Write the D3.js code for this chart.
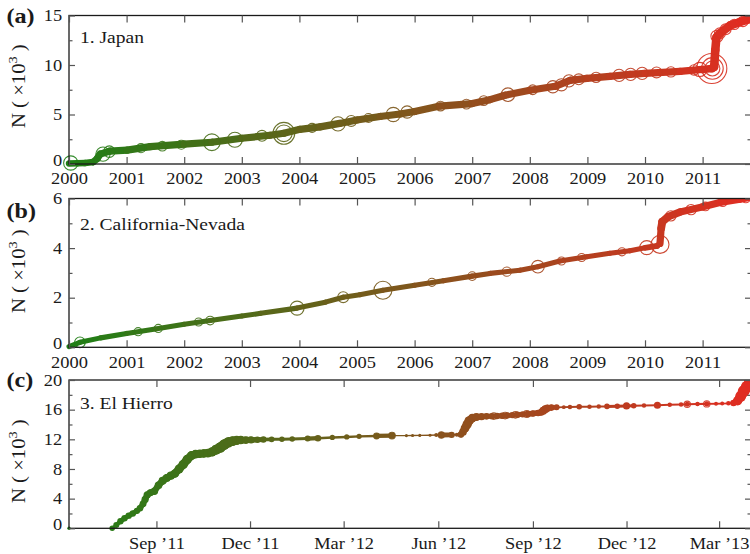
<!DOCTYPE html>
<html>
<head>
<meta charset="utf-8">
<script src="https://cdn.jsdelivr.net/npm/d3@7"></script>
<style>
  body { margin: 0; background: #fff; }
  svg { display: block; }
  text { font-family: "Liberation Serif", "Times New Roman", serif; fill: #1a1a1a; }
</style>
</head>
<body>
<svg id="chart" width="750" height="554"></svg>
<script>
// ---------------------------------------------------------------
// Cumulative earthquake counts N (thousands).
// Curve rows: [time, N, representative magnitude of the interval]
// Event rows: [time, N, magnitude] for the largest shocks (rings)
// ---------------------------------------------------------------

// (a) Japan, time in decimal years
const japanCurve = [
  [2000.00, 0.05, 5.0], [2000.15, 0.08, 5.0], [2000.28, 0.10, 5.0], [2000.42, 0.20, 5.1],
  [2000.49, 0.55, 5.2], [2000.54, 1.00, 5.2], [2000.71, 1.30, 5.2], [2001.01, 1.40, 5.2],
  [2001.41, 1.75, 5.2], [2002.00, 2.00, 5.2], [2002.48, 2.20, 5.2], [2003.00, 2.60, 5.2],
  [2003.49, 2.90, 5.2], [2003.73, 3.10, 5.3], [2004.01, 3.50, 5.2], [2004.36, 3.75, 5.2],
  [2004.70, 4.10, 5.2], [2005.00, 4.45, 5.2], [2005.40, 4.80, 5.2], [2005.75, 5.05, 5.2],
  [2006.00, 5.30, 5.2], [2006.44, 5.85, 5.2], [2007.00, 6.10, 5.2], [2007.31, 6.50, 5.2],
  [2007.57, 6.95, 5.2], [2008.00, 7.45, 5.2], [2008.44, 7.85, 5.2], [2008.70, 8.45, 5.3],
  [2008.99, 8.65, 5.2], [2009.39, 8.85, 5.2], [2009.74, 9.05, 5.2], [2010.00, 9.15, 5.2],
  [2010.61, 9.35, 5.2], [2010.99, 9.55, 5.3], [2011.16, 9.65, 5.5], [2011.20, 9.80, 5.6],
  [2011.22, 11.50, 5.6], [2011.24, 12.80, 5.6], [2011.30, 13.20, 5.6], [2011.48, 14.00, 5.6],
  [2011.65, 14.35, 5.6], [2011.86, 14.70, 5.6]
];
const japanEvents = [
  [2000.03, 0.10, 7.0], [2000.59, 1.00, 7.0], [2000.70, 1.25, 6.6], [2001.25, 1.60, 6.2],
  [2001.62, 1.80, 6.3], [2001.95, 1.95, 6.2], [2002.48, 2.20, 7.35], [2002.88, 2.45, 7.1],
  [2003.35, 2.85, 6.5], [2003.73, 3.10, 8.02], [2003.73, 3.10, 7.35], [2004.22, 3.65, 6.2],
  [2004.67, 4.05, 7.0], [2004.90, 4.35, 6.5], [2005.20, 4.65, 6.2], [2005.63, 5.00, 7.0],
  [2005.87, 5.25, 6.7], [2006.45, 5.85, 6.3], [2006.90, 6.05, 6.3], [2007.20, 6.40, 6.3],
  [2007.62, 7.00, 6.9], [2008.05, 7.50, 6.3], [2008.40, 7.80, 6.7], [2008.55, 8.00, 6.7],
  [2008.68, 8.40, 6.7], [2008.85, 8.55, 6.5], [2009.15, 8.75, 6.4], [2009.55, 8.95, 6.7],
  [2009.75, 9.05, 6.7], [2009.95, 9.15, 6.7], [2010.20, 9.25, 6.5], [2010.45, 9.30, 6.4],
  [2010.85, 9.50, 6.4], [2010.95, 9.55, 7.0], [2011.16, 9.65, 9.0], [2011.17, 9.65, 8.0],
  [2011.17, 9.65, 7.1], [2011.25, 12.90, 6.7], [2011.30, 13.20, 6.5], [2011.40, 13.60, 6.5],
  [2011.55, 14.10, 6.4], [2011.70, 14.40, 6.4]
];

// (b) California-Nevada, time in decimal years
const calNevCurve = [
  [2000.00, 0.03, 4.6], [2000.19, 0.20, 4.6], [2000.55, 0.38, 4.6], [2001.00, 0.56, 4.6],
  [2001.50, 0.74, 4.6], [2002.00, 0.93, 4.6], [2002.45, 1.08, 4.6], [2003.00, 1.26, 4.6],
  [2003.33, 1.37, 4.6], [2003.96, 1.58, 4.7], [2004.45, 1.82, 4.6], [2004.76, 2.02, 4.7],
  [2005.05, 2.12, 4.6], [2005.45, 2.30, 4.7], [2006.00, 2.50, 4.6], [2006.50, 2.68, 4.6],
  [2007.00, 2.87, 4.6], [2007.31, 2.98, 4.6], [2007.83, 3.11, 4.6], [2008.14, 3.25, 4.8],
  [2008.52, 3.48, 4.6], [2008.99, 3.65, 4.6], [2009.39, 3.79, 4.6], [2009.74, 3.89, 4.6],
  [2010.00, 4.01, 4.8], [2010.21, 4.09, 4.8], [2010.26, 4.19, 5.2], [2010.28, 4.80, 5.4],
  [2010.30, 5.06, 5.4], [2010.40, 5.26, 5.4], [2010.61, 5.46, 5.3], [2010.99, 5.66, 5.2],
  [2011.30, 5.84, 5.2], [2011.65, 5.97, 5.2], [2011.86, 6.06, 5.2]
];
const calNevEvents = [
  [2000.19, 0.20, 6.06], [2001.20, 0.63, 5.6], [2001.55, 0.76, 5.6], [2002.25, 1.02, 5.6],
  [2002.45, 1.08, 5.7], [2003.96, 1.58, 6.6], [2004.76, 2.02, 6.1], [2005.45, 2.30, 7.2],
  [2006.30, 2.62, 5.6], [2007.00, 2.87, 5.7], [2007.60, 3.05, 5.8], [2008.14, 3.25, 6.4],
  [2008.55, 3.48, 5.6], [2008.90, 3.62, 5.6], [2009.60, 3.85, 5.6], [2010.03, 4.02, 6.6],
  [2010.26, 4.15, 7.2], [2010.45, 5.30, 6.0], [2010.80, 5.55, 6.0], [2011.05, 5.68, 5.7],
  [2011.35, 5.85, 5.7], [2011.75, 6.00, 5.7]
];

// (c) El Hierro, time as calendar dates
const hierroCurve = [
  ["2011-06-08", 0.00, 1.8],
  ["2011-07-20", 0.00, 2.6], ["2011-07-24", 0.45, 2.8], ["2011-07-28", 0.95, 2.9],
  ["2011-08-01", 1.35, 2.9], ["2011-08-05", 1.70, 2.9], ["2011-08-09", 2.00, 2.9],
  ["2011-08-13", 2.35, 2.9], ["2011-08-16", 2.70, 3.0], ["2011-08-19", 3.30, 3.1],
  ["2011-08-21", 3.90, 3.2], ["2011-08-23", 4.50, 3.2], ["2011-08-26", 4.80, 3.2],
  ["2011-08-30", 5.00, 3.3], ["2011-09-03", 5.80, 3.4], ["2011-09-07", 6.40, 3.5],
  ["2011-09-11", 6.80, 3.5], ["2011-09-15", 7.10, 3.6], ["2011-09-19", 7.40, 3.7],
  ["2011-09-23", 8.00, 3.9], ["2011-09-27", 8.60, 4.0], ["2011-10-01", 9.30, 4.0],
  ["2011-10-05", 9.80, 3.9], ["2011-10-09", 10.00, 3.8], ["2011-10-13", 10.05, 3.7],
  ["2011-10-17", 10.10, 3.7], ["2011-10-21", 10.15, 3.8], ["2011-10-25", 10.30, 4.0],
  ["2011-10-29", 10.60, 4.3], ["2011-11-02", 10.90, 4.5], ["2011-11-06", 11.30, 4.5],
  ["2011-11-10", 11.60, 4.4], ["2011-11-14", 11.75, 4.2], ["2011-11-18", 11.85, 4.0],
  ["2011-11-22", 11.90, 3.7], ["2011-11-27", 11.90, 3.4], ["2011-12-02", 11.92, 3.2],
  ["2011-12-08", 11.95, 3.0], ["2011-12-14", 11.97, 2.9], ["2011-12-22", 12.00, 2.7],
  ["2012-01-01", 12.00, 2.6], ["2012-01-11", 12.05, 2.6], ["2012-01-26", 12.10, 2.8],
  ["2012-02-05", 12.15, 3.0], ["2012-02-19", 12.25, 2.5], ["2012-03-04", 12.32, 2.5],
  ["2012-03-16", 12.40, 2.5], ["2012-04-02", 12.45, 2.8], ["2012-04-17", 12.50, 3.0],
  ["2012-05-01", 12.50, 1.7], ["2012-05-07", 12.52, 1.7], ["2012-05-14", 12.53, 1.7],
  ["2012-05-24", 12.55, 1.7], ["2012-05-30", 12.57, 2.0], ["2012-06-04", 12.58, 2.9],
  ["2012-06-14", 12.60, 2.9], ["2012-06-19", 12.62, 2.0], ["2012-06-23", 12.65, 3.0],
  ["2012-06-25", 13.00, 3.4], ["2012-06-27", 13.50, 3.8], ["2012-06-29", 14.00, 4.0],
  ["2012-07-01", 14.50, 4.0], ["2012-07-04", 14.85, 3.8], ["2012-07-08", 15.00, 3.5],
  ["2012-07-13", 15.05, 3.2], ["2012-07-18", 15.10, 3.0], ["2012-07-23", 15.12, 2.9],
  ["2012-07-28", 15.15, 2.9], ["2012-08-02", 15.18, 2.9], ["2012-08-07", 15.22, 2.9],
  ["2012-08-12", 15.27, 2.9], ["2012-08-17", 15.32, 2.9], ["2012-08-22", 15.37, 2.9],
  ["2012-08-27", 15.42, 3.0], ["2012-09-01", 15.48, 3.0], ["2012-09-06", 15.55, 3.0],
  ["2012-09-09", 15.65, 3.2], ["2012-09-11", 15.85, 3.5], ["2012-09-13", 16.05, 3.5],
  ["2012-09-15", 16.20, 3.3], ["2012-09-19", 16.28, 3.0], ["2012-09-24", 16.32, 2.8],
  ["2012-10-01", 16.34, 2.0], ["2012-10-07", 16.36, 2.2], ["2012-10-16", 16.38, 2.6],
  ["2012-10-26", 16.40, 2.2], ["2012-11-04", 16.42, 2.2], ["2012-11-12", 16.44, 2.6],
  ["2012-11-22", 16.46, 2.6], ["2012-12-01", 16.50, 3.2], ["2012-12-08", 16.52, 2.6],
  ["2012-12-18", 16.55, 2.2], ["2012-12-31", 16.60, 3.2], ["2013-01-12", 16.65, 2.2],
  ["2013-01-23", 16.70, 2.2], ["2013-01-29", 16.72, 2.4], ["2013-02-08", 16.75, 2.2],
  ["2013-02-17", 16.78, 2.4], ["2013-02-26", 16.80, 2.0], ["2013-03-04", 16.82, 2.0],
  ["2013-03-10", 16.85, 2.2], ["2013-03-15", 16.90, 3.0], ["2013-03-19", 17.20, 4.0],
  ["2013-03-22", 17.80, 4.6], ["2013-03-25", 18.50, 5.0], ["2013-03-28", 19.10, 5.0],
  ["2013-03-31", 19.60, 5.0]
];
const hierroEvents = [
  ["2012-04-02", 12.45, 2.7], ["2012-04-17", 12.50, 3.0], ["2012-06-04", 12.58, 2.9],
  ["2012-07-25", 15.13, 3.0], ["2012-08-05", 15.20, 3.0], ["2012-08-15", 15.30, 3.0],
  ["2012-08-26", 15.40, 3.1], ["2013-01-29", 16.72, 2.9], ["2013-02-17", 16.78, 2.9]
];

// Axis ticks and labels
const yearTicks = [2000, 2001, 2002, 2003, 2004, 2005, 2006, 2007, 2008, 2009, 2010, 2011];
const japanYTicks = [0, 5, 10, 15];
const japanYMinor = [2.5, 7.5, 12.5];
const calNevYTicks = [0, 2, 4, 6];
const calNevYMinor = [1, 3, 5];
const hierroYTicks = [0, 4, 8, 12, 16, 20];
const hierroYMinor = [2, 6, 10, 14, 18];
const hierroTickDates = ["2011-09-01", "2011-12-01", "2012-03-01", "2012-06-01", "2012-09-01", "2012-12-01", "2013-03-01"];
const hierroTickLabels = ["Sep \u201911", "Dec \u201911", "Mar \u201912", "Jun \u201912", "Sep \u201912", "Dec \u201912", "Mar \u201913"];
const panelTitles = ["1. Japan", "2. California-Nevada", "3. El Hierro"];
const panelLetters = ["(a)", "(b)", "(c)"];

// ---------------------------------------------------------------
const svg = d3.select("#chart");
const parse = d3.utcParse("%Y-%m-%d");
const LEFT = 69, RIGHT = 751;
const SX = 1.15;                       // horizontal widening of the lettering
const timeColor = d3.interpolateRgb("rgb(30,128,22)", "rgb(226,44,34)");

const bandMain = d3.scaleLinear().domain([4, 6]).range([3, 10]);
const bandHierro = d3.scaleLinear().domain([1.5, 2.5, 3.0, 4.5]).range([1.2, 2.4, 5.5, 10]).clamp(true);
const dotHierro = d3.scaleLinear().domain([1.5, 5]).range([1.3, 6]).clamp(true);

const yearScale = d3.scaleLinear().domain([2000, 2011.84]).range([LEFT, RIGHT]);
const hierroStart = parse("2011-06-08"), hierroEnd = parse("2013-04-01");
const dateScale = d3.scaleUtc().domain([hierroStart, hierroEnd]).range([LEFT, RIGHT]);

const panels = [
  {
    top: 15.5, bottom: 164, yMax: 15, yTicks: japanYTicks, yMinor: japanYMinor,
    curve: japanCurve, events: japanEvents,
    xOf: d => yearScale(d[0]), tOf: d => (d[0] - 2000) / 11.84,
    band: bandMain, ring: d3.scalePow().exponent(2).domain([5.5, 9]).range([2.5, 15]).clamp(true),
    xTicks: yearTicks.map(v => yearScale(v)), xLabels: yearTicks.map(String),
    titleY: 43, letterY: 23, ylabelY: 128, maxGap: Infinity, dots: false
  },
  {
    top: 198.5, bottom: 347.3, yMax: 6, yTicks: calNevYTicks, yMinor: calNevYMinor,
    curve: calNevCurve, events: calNevEvents,
    xOf: d => yearScale(d[0]), tOf: d => (d[0] - 2000) / 11.84,
    band: bandMain, ring: d3.scalePow().exponent(2).domain([5, 7.2]).range([2.5, 9]).clamp(true),
    xTicks: yearTicks.map(v => yearScale(v)), xLabels: yearTicks.map(String),
    titleY: 230, letterY: 218, ylabelY: 313, maxGap: Infinity, dots: false
  },
  {
    top: 380, bottom: 528.3, yMax: 20, yTicks: hierroYTicks, yMinor: hierroYMinor,
    curve: hierroCurve, events: hierroEvents,
    xOf: d => dateScale(parse(d[0])),
    tOf: d => (parse(d[0]) - hierroStart) / (hierroEnd - hierroStart),
    band: bandHierro, ring: dotHierro,
    xTicks: hierroTickDates.map(s => dateScale(parse(s))), xLabels: hierroTickLabels,
    titleY: 409, letterY: 387, ylabelY: 503, maxGap: 30 * 864e5, dots: true
  }
];

panels.forEach((p, i) => {
  const y = d3.scaleLinear().domain([0, p.yMax]).range([p.bottom, p.top]);
  const g = svg.append("g");

  // clip only above the top frame line
  const clipId = "clip" + i;
  svg.append("clipPath").attr("id", clipId)
    .append("rect").attr("x", 40).attr("y", p.top)
    .attr("width", 760).attr("height", p.bottom - p.top + 30);
  const plot = g.append("g").attr("clip-path", `url(#${clipId})`);

  // thick cumulative band, coloured by time
  const gapOf = (a, b) => i === 2 ? parse(b[0]) - parse(a[0]) : 0;
  const segs = d3.pairs(p.curve).filter(([a, b]) => gapOf(a, b) <= p.maxGap);
  plot.append("g").selectAll("line").data(segs).join("line")
    .attr("x1", d => p.xOf(d[0])).attr("y1", d => y(d[0][1]))
    .attr("x2", d => p.xOf(d[1])).attr("y2", d => y(d[1][1]))
    .attr("stroke", d => timeColor((p.tOf(d[0]) + p.tOf(d[1])) / 2))
    .attr("stroke-width", d => p.band(Math.min(d[0][2], d[1][2])))
    .attr("stroke-linecap", "round");

  // individual events as filled dots
  if (p.dots) {
    plot.append("g").selectAll("circle").data(p.curve).join("circle")
      .attr("cx", d => p.xOf(d)).attr("cy", d => y(d[1]))
      .attr("r", d => dotHierro(d[2]))
      .attr("fill", d => timeColor(p.tOf(d)));
  }

  // large events as open rings
  plot.append("g").selectAll("circle").data(p.events).join("circle")
    .attr("cx", d => p.xOf(d)).attr("cy", d => y(d[1]))
    .attr("r", d => p.ring(d[2]))
    .attr("fill", "none")
    .attr("stroke", d => timeColor(p.tOf(d)))
    .attr("stroke-width", 1.1)
    .attr("stroke-opacity", 0.9);

  // frame (right edge lies just outside the canvas)
  g.append("rect").attr("x", LEFT).attr("y", p.top)
    .attr("width", RIGHT - LEFT).attr("height", p.bottom - p.top)
    .attr("fill", "none").attr("stroke", "#1a1a1a").attr("stroke-width", 1.3);

  const tickStroke = "#555";
  const xPos = d3.scaleIdentity();
  // bottom ticks + labels
  const xb = g.append("g").attr("transform", `translate(0,${p.bottom})`)
    .call(d3.axisBottom(xPos).tickValues(p.xTicks).tickFormat((d, k) => p.xLabels[k])
      .tickSize(-7).tickSizeOuter(0).tickPadding(9));
  // top ticks
  const xt = g.append("g").attr("transform", `translate(0,${p.top})`)
    .call(d3.axisTop(xPos).tickValues(p.xTicks).tickFormat("").tickSize(-7).tickSizeOuter(0));
  // left major/minor
  const yl = g.append("g").attr("transform", `translate(${LEFT},0)`)
    .call(d3.axisLeft(y).tickValues(p.yTicks).tickFormat(d3.format("d")).tickSize(-6).tickSizeOuter(0).tickPadding(6));
  const ylm = g.append("g").attr("transform", `translate(${LEFT},0)`)
    .call(d3.axisLeft(y).tickValues(p.yMinor).tickFormat("").tickSize(-3.5).tickSizeOuter(0));
  // right major/minor
  const yr = g.append("g").attr("transform", `translate(${RIGHT},0)`)
    .call(d3.axisRight(y).tickValues(p.yTicks).tickFormat("").tickSize(-6).tickSizeOuter(0));
  const yrm = g.append("g").attr("transform", `translate(${RIGHT},0)`)
    .call(d3.axisRight(y).tickValues(p.yMinor).tickFormat("").tickSize(-3.5).tickSizeOuter(0));

  [xb, xt, yl, ylm, yr, yrm].forEach(a => {
    a.attr("font-family", null).attr("font-size", null);
    a.select(".domain").remove();
    a.selectAll("line").attr("stroke", tickStroke).attr("stroke-width", 1.2);
  });
  [xb, yl].forEach(a => a.selectAll("text")
    .attr("font-size", 16).attr("fill", "#1a1a1a")
    .attr("transform", `scale(${SX},1)`));
  // the zero label sits a touch higher so it clears the year labels
  yl.selectAll("text").filter(d => d === 0).attr("dy", "0.1em");

  // series title
  g.append("text").attr("transform", `translate(80,${p.titleY}) scale(${SX},1)`)
    .attr("font-size", 17).text(panelTitles[i]);

  // panel letter
  g.append("text").attr("transform", `translate(6.5,${p.letterY}) scale(${SX},1)`)
    .attr("font-size", 21).attr("font-weight", "bold").text(panelLetters[i]);

  // y-axis label: N ( ×10^3 )
  const yl2 = g.append("text")
    .attr("transform", `translate(24.5,${p.ylabelY}) rotate(-90) scale(${SX},1)`)
    .attr("font-size", 18);
  yl2.append("tspan").text("N ( \u00d710");
  yl2.append("tspan").attr("dy", -8).attr("font-size", 12.5).text("3");
  yl2.append("tspan").attr("dy", 8).text(" )");
});
</script>
</body>
</html>
